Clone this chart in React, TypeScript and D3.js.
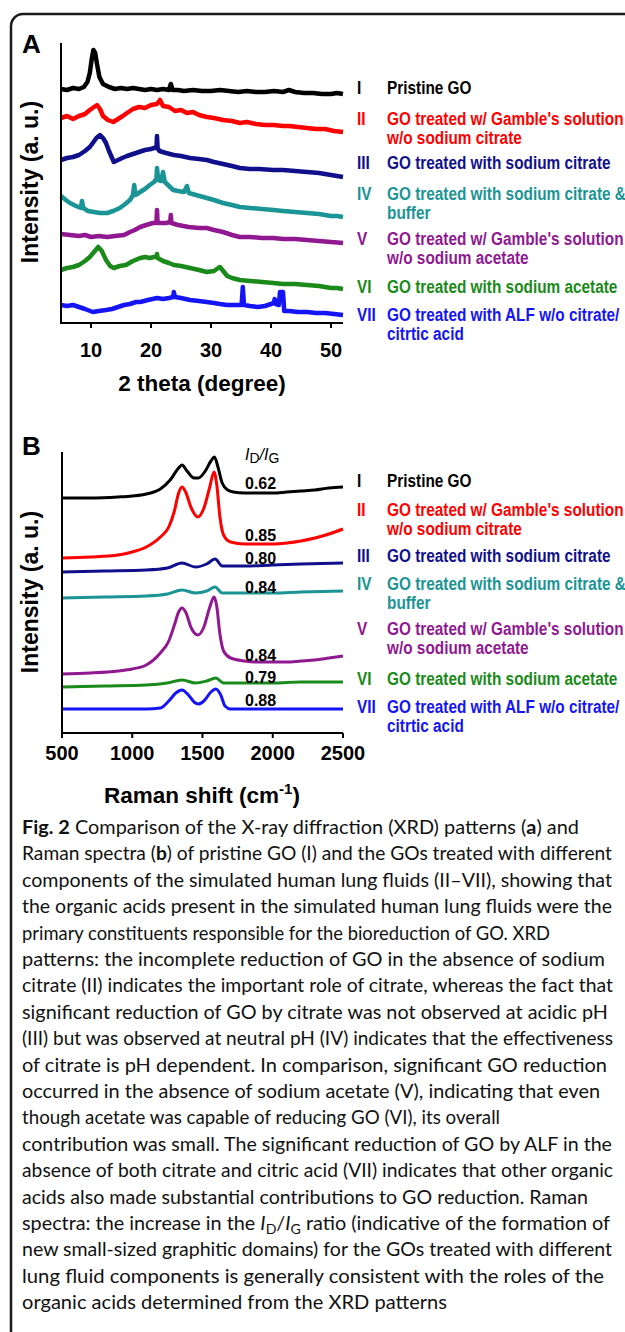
import React from 'react';
import * as d3 from 'd3';

type Pt = [number, number];

// ---- XRD patterns (2 theta, intensity a.u.) ----
const xrdI: Pt[] = [[5,234],[6,233],[7,235],[8,234],[8.8,236],[9.4,241],[9.8,250],[10.1,263],[10.4,273],[10.7,270],[11,259],[11.4,246],[12,239],[13,236],[14,234],[15,235],[16,234],[17,235],[18,234],[19,233],[20,234],[21,233],[22,234],[23,233],[23.3,239],[23.6,233],[24.5,233],[25.5,232],[27,233],[28.5,232],[30,232],[31.5,233],[33,232],[34.5,231],[36,232],[37.5,231],[39,231],[40.5,232],[42,231],[43,233],[44,231],[45.5,230],[47,230],[48.5,229],[50,229],[51,230],[52,229]];
const xrdII: Pt[] = [[5,205],[6,207],[7,204],[8,207],[9,209],[9.8,213],[10.5,216],[11,218],[11.5,214],[12,207],[12.8,203],[13.7,201],[14.5,204],[15.3,207],[16,210],[17,214],[18,216],[19,215],[20,218],[21,219],[21.5,223],[22,217],[23,216],[24,212],[25,213],[26,210],[27,211],[28,208],[29.3,206],[30.5,205],[32,203],[33.5,202],[34.8,200],[36,201],[37.5,199],[39,198],[40.4,198],[42,197],[43,197],[44.5,196],[46,195],[47.5,194],[49,194],[50.5,192],[52,191]];
const xrdIII: Pt[] = [[5,163],[6,165],[7,166],[8,168],[9,172],[9.8,176],[10.3,180],[10.9,185],[11.5,188],[12,185],[12.5,180],[13,172],[13.8,161],[14.5,163],[15.2,165],[16,167],[17,169],[18,171],[19,173],[20,174],[20.5,175],[20.9,175],[21,187],[21.1,175],[21.4,172],[22.5,170],[23.8,168],[25,167],[26.5,165],[28,164],[29.3,163],[30.5,161],[32,159],[33.5,157],[34.8,155],[36.5,154],[38,154],[40.4,153],[42,153],[44,152],[46,151],[48,150],[50,148],[51,147],[52,146]];
const xrdIV: Pt[] = [[5,127],[5.8,123],[6.5,120],[7.5,117],[8.3,115],[8.5,122],[8.7,115],[9.5,112],[10.5,111],[11.5,110],[12.7,110],[13.7,112],[14.8,115],[15.7,119],[16.5,123],[17,128],[17.2,138],[17.4,128],[18.2,131],[19,134],[19.8,138],[20.5,141],[20.9,144],[21,155],[21.2,143],[21.7,142],[22,151],[22.3,141],[23,137],[23.7,133],[24.5,132],[25.5,131],[26,137],[26.3,130],[27.5,128],[29.3,125],[30.5,123],[32,120],[33.5,118],[34.8,116],[36.5,115],[38.5,114],[40.4,113],[42,112],[44,111],[46,110],[48,109],[50,107],[51,107],[52,106]];
const xrdV: Pt[] = [[5,89],[6.5,88],[8,87],[9,88],[10,86],[11.3,87],[12.7,86],[14,87],[15.5,88],[16.5,91],[17.3,93],[18.2,96],[19.2,98],[20.3,100],[20.9,100],[21,113],[21.1,100],[22,100],[22.5,100],[23.2,101],[23.3,108],[23.4,100],[24.5,98],[26.3,96],[28,95],[29.3,95],[30.5,93],[32,91],[33.5,88],[34.8,86],[36.5,86],[38.5,85],[40.4,85],[42,84],[44,84],[46,83],[48,82],[50,81],[52,80]];
const xrdVI: Pt[] = [[5,53],[6,55],[7,56],[8,58],[9,62],[9.8,66],[10.5,71],[11.2,76],[11.8,72],[12.5,63],[13.2,57],[13.8,55],[14.8,57],[15.8,58],[17,62],[18.2,65],[19,66],[19.8,65],[20.5,66],[20.9,66],[21,69],[21.1,65],[22,62],[23,60],[23.8,58],[25,57],[26.5,55],[28,53],[29.3,51],[30.5,52],[31.2,55],[31.5,56],[31.9,53],[32.7,47],[33.5,45],[34.8,43],[36.5,42],[38.5,41],[40.4,40],[42,39],[44,39],[46,38],[48,37],[50,35],[51,35],[52,34]];
const xrdVII: Pt[] = [[5,18],[6,17],[7,18],[8,16],[9,14],[10.3,11],[11.3,12],[12.5,13],[13.5,14],[14.5,16],[15.5,18],[16.5,19],[17.5,21],[18.2,21],[19.5,23],[21,25],[22,24],[23,25],[23.7,26],[23.8,31],[24,26],[25,25],[26.5,23],[28,22],[29.3,21],[30.5,20],[31.5,19],[32.7,18],[34,18],[35.1,18],[35.3,36],[35.5,18],[36.5,17],[37.8,16],[39,17],[40.5,20],[40.6,24],[40.8,19],[41.3,18],[41.5,31],[42,31],[42.2,12],[43,12],[44.5,11],[46,11],[47.5,10],[49,10],[50.5,9],[52,8]];

// ---- Raman spectra (shift cm-1, intensity a.u.) ----
const ramanI: Pt[] = [[500,235],[700,235],[900,236],[1000,237],[1100,239],[1200,244],[1270,253],[1330,265],[1354,268],[1390,262],[1440,255],[1470,255],[1520,262],[1560,272],[1585,276],[1610,266],[1640,250],[1680,243],[1720,241],[1800,240],[1900,240],[2000,240],[2100,241],[2200,242],[2300,243],[2400,245],[2500,246]];
const ramanII: Pt[] = [[500,175],[700,176],[900,178],[1000,181],[1100,186],[1200,196],[1260,206],[1300,222],[1330,240],[1354,246],[1380,241],[1420,225],[1468,216],[1510,225],[1550,245],[1582,261],[1600,250],[1625,215],[1650,198],[1700,191],[1800,189],[1900,189],[2000,189],[2100,190],[2200,192],[2300,195],[2400,199],[2500,204]];
const ramanIII: Pt[] = [[500,161],[800,162],[1100,163],[1250,165],[1354,170],[1450,166],[1530,169],[1590,174],[1640,167],[1800,167],[2000,168],[2200,169],[2500,170]];
const ramanIV: Pt[] = [[500,135],[800,136],[1100,137],[1250,139],[1354,143],[1450,140],[1530,142],[1590,146],[1640,140],[1800,140],[2000,140],[2200,141],[2500,142]];
const ramanV: Pt[] = [[500,59],[700,60],[900,62],[1000,64],[1100,68],[1200,80],[1260,92],[1300,108],[1330,121],[1354,125],[1380,121],[1420,105],[1468,98],[1510,106],[1550,125],[1582,136],[1600,128],[1625,98],[1650,82],[1700,75],[1800,72],[1900,71],[2000,71],[2100,71],[2200,72],[2300,73],[2400,75],[2500,77]];
const ramanVI: Pt[] = [[500,46],[800,47],[1100,48],[1250,50],[1354,53],[1450,50],[1530,52],[1595,55],[1650,50],[1800,50],[2000,50],[2200,51],[2500,51]];
const ramanVII: Pt[] = [[500,24],[800,24],[1100,24],[1200,25],[1260,32],[1310,40],[1354,43],[1400,38],[1440,31],[1470,29],[1510,32],[1560,41],[1595,44],[1630,38],[1660,27],[1700,24],[2000,24],[2500,24]];

const romanNumerals = ['I', 'II', 'III', 'IV', 'V', 'VI', 'VII'];
const sampleLabels = [
  ['Pristine GO'],
  ["GO treated w/ Gamble's solution", 'w/o sodium citrate'],
  ['GO treated with sodium citrate'],
  ['GO treated with sodium citrate &', 'buffer'],
  ["GO treated w/ Gamble's solution", 'w/o sodium acetate'],
  ['GO treated with sodium acetate'],
  ['GO treated with ALF w/o citrate/', 'citrtic acid'],
];
const idIgRatios = ['0.62', '0.85', '0.80', '0.84', '0.84', '0.79', '0.88'];
const xrdTicks = [10, 20, 30, 40, 50];
const ramanTicks = [500, 1000, 1500, 2000, 2500];

const colors = ['#000000', '#fe0000', '#10108c', '#1a9494', '#901890', '#1a8a1a', '#1414f5'];
const xrdSeries = [xrdI, xrdII, xrdIII, xrdIV, xrdV, xrdVI, xrdVII];
const ramanSeries = [ramanI, ramanII, ramanIII, ramanIV, ramanV, ramanVI, ramanVII];

// layout (pixel positions of legend rows, ratio labels, caption line ends)
const legendYA = [87, 118, 162, 193, 238, 286, 314];
const legendYB = [480, 509, 555, 583, 628, 678, 706];
const ratioY = [483, 535, 558, 587, 655, 677, 700];
const captionRight = [579, 612, 612, 612, 550, 605, 613, 608, 613, 607, 600, 500, 612, 613, 588, 610, 612, 604, 447];

const captionLines: React.ReactNode[] = [
  <><tspan fontWeight="bold">Fig. 2</tspan> Comparison of the X-ray diffraction (XRD) patterns (<tspan fontWeight="bold">a</tspan>) and</>,
  <>Raman spectra (<tspan fontWeight="bold">b</tspan>) of pristine GO (I) and the GOs treated with different</>,
  'components of the simulated human lung fluids (II\u2013VII), showing that',
  'the organic acids present in the simulated human lung fluids were the',
  'primary constituents responsible for the bioreduction of GO. XRD',
  'patterns: the incomplete reduction of GO in the absence of sodium',
  'citrate (II) indicates the important role of citrate, whereas the fact that',
  'significant reduction of GO by citrate was not observed at acidic pH',
  '(III) but was observed at neutral pH (IV) indicates that the effectiveness',
  'of citrate is pH dependent. In comparison, significant GO reduction',
  'occurred in the absence of sodium acetate (V), indicating that even',
  'though acetate was capable of reducing GO (VI), its overall',
  'contribution was small. The significant reduction of GO by ALF in the',
  'absence of both citrate and citric acid (VII) indicates that other organic',
  'acids also made substantial contributions to GO reduction. Raman',
  <>spectra: the increase in the <tspan fontStyle="italic">I</tspan><tspan fontSize="13.5" dy="4">D</tspan><tspan dy="-4">/</tspan><tspan fontStyle="italic">I</tspan><tspan fontSize="13.5" dy="4">G</tspan><tspan dy="-4"> ratio (indicative of the formation of</tspan></>,
  'new small-sized graphitic domains) for the GOs treated with different',
  'lung fluid components is generally consistent with the roles of the',
  'organic acids determined from the XRD patterns',
];

const chartFont = '"Liberation Sans", Arial, sans-serif';

const Legend = ({ ys }: { ys: number[] }) => (
  <g fontFamily={chartFont} fontWeight="bold" fontSize={18.5}>
    {romanNumerals.map((r, i) => (
      <g key={r} fill={colors[i]}>
        <text transform={`translate(357,${ys[i] + 6.6}) scale(0.83,1)`}>{r}</text>
        {sampleLabels[i].map((l, j) => (
          <text key={j} transform={`translate(387,${ys[i] + 6.6 + j * 19.5}) scale(0.83,1)`}>{l}</text>
        ))}
      </g>
    ))}
  </g>
);

export default function App() {
  const xA = d3.scaleLinear().domain([5, 52]).range([61, 343]);
  const yA = d3.scaleLinear().domain([0, 280]).range([323, 43]);
  const xB = d3.scaleLinear().domain([500, 2500]).range([62, 343]);
  const yB = d3.scaleLinear().domain([0, 281]).range([733, 452]);

  const lineA = d3.line<Pt>().x(d => xA(d[0])).y(d => yA(d[1])).curve(d3.curveLinear);
  const lineB = d3.line<Pt>().x(d => xB(d[0])).y(d => yB(d[1])).curve(d3.curveMonotoneX);

  return (
    <svg width={625} height={1332} style={{ position: 'absolute', left: 0, top: 0, background: '#fff' }}>
      <path d="M11,1345 V26 A12,12 0 0 1 23,14 H640" fill="none" stroke="#1a1a1a" strokeWidth={2.5} />

      {/* Panel A */}
      <text x={22} y={53} fontFamily={chartFont} fontWeight="bold" fontSize={26}>A</text>
      <g fill="none" strokeLinejoin="round">
        {xrdSeries.map((s, i) => (
          <path key={i} d={lineA(s) ?? ''} stroke={colors[i]} strokeWidth={4.5} />
        ))}
      </g>
      <g stroke="#000" strokeWidth={2}>
        <line x1={xA(5)} x2={xA(5)} y1={yA(280)} y2={yA(0) + 1} />
        <line x1={xA(5)} x2={xA(52)} y1={yA(0)} y2={yA(0)} />
        {xrdTicks.map(t => <line key={t} x1={xA(t)} x2={xA(t)} y1={yA(0)} y2={yA(0) + 5} />)}
      </g>
      <g fontFamily={chartFont} fontWeight="bold" fontSize={20} textAnchor="middle">
        {xrdTicks.map(t => <text key={t} x={xA(t)} y={357}>{t}</text>)}
      </g>
      <text x={202} y={391} fontFamily={chartFont} fontWeight="bold" fontSize={22.5} textAnchor="middle">2 theta (degree)</text>
      <text transform="translate(38,182) rotate(-90)" fontFamily={chartFont} fontWeight="bold" fontSize={23} textAnchor="middle">Intensity (a. u.)</text>
      <Legend ys={legendYA} />

      {/* Panel B */}
      <text x={22} y={455} fontFamily={chartFont} fontWeight="bold" fontSize={26}>B</text>
      <g fill="none" strokeLinejoin="round">
        {ramanSeries.map((s, i) => (
          <path key={i} d={lineB(s) ?? ''} stroke={colors[i]} strokeWidth={3} />
        ))}
      </g>
      <g stroke="#000" strokeWidth={2}>
        <line x1={xB(500)} x2={xB(500)} y1={yB(281)} y2={yB(0) + 1} />
        <line x1={xB(500)} x2={xB(2500)} y1={yB(0)} y2={yB(0)} />
        {ramanTicks.map(t => <line key={t} x1={xB(t)} x2={xB(t)} y1={yB(0)} y2={yB(0) + 5} />)}
      </g>
      <g fontFamily={chartFont} fontWeight="bold" fontSize={20} textAnchor="middle">
        {ramanTicks.map(t => <text key={t} x={xB(t)} y={760}>{t}</text>)}
      </g>
      <text x={202} y={803} fontFamily={chartFont} fontWeight="bold" fontSize={22.5} textAnchor="middle">
        Raman shift (cm<tspan fontSize={15} dy={-9}>-1</tspan><tspan dy={9}>)</tspan>
      </text>
      <text transform="translate(38,592) rotate(-90)" fontFamily={chartFont} fontWeight="bold" fontSize={23} textAnchor="middle">Intensity (a. u.)</text>
      <text x={245} y={460} fontFamily={chartFont} fontSize={16}>
        <tspan fontStyle="italic">I</tspan><tspan fontSize={14} dy={3}>D</tspan><tspan dy={-3} fontStyle="italic">/I</tspan><tspan fontSize={14} dy={3}>G</tspan>
      </text>
      <g fontFamily={chartFont} fontWeight="bold" fontSize={16}>
        {idIgRatios.map((r, i) => <text key={i} x={245} y={ratioY[i] + 5.5}>{r}</text>)}
      </g>
      <Legend ys={legendYB} />

      {/* Caption */}
      <g fontFamily="Lato, sans-serif" fontSize={19} fill="#111">
        {captionLines.map((l, i) => (
          <text key={i} x={22} y={834 + i * 26.4} textLength={captionRight[i] - 22} lengthAdjust="spacingAndGlyphs">{l}</text>
        ))}
      </g>
    </svg>
  );
}
